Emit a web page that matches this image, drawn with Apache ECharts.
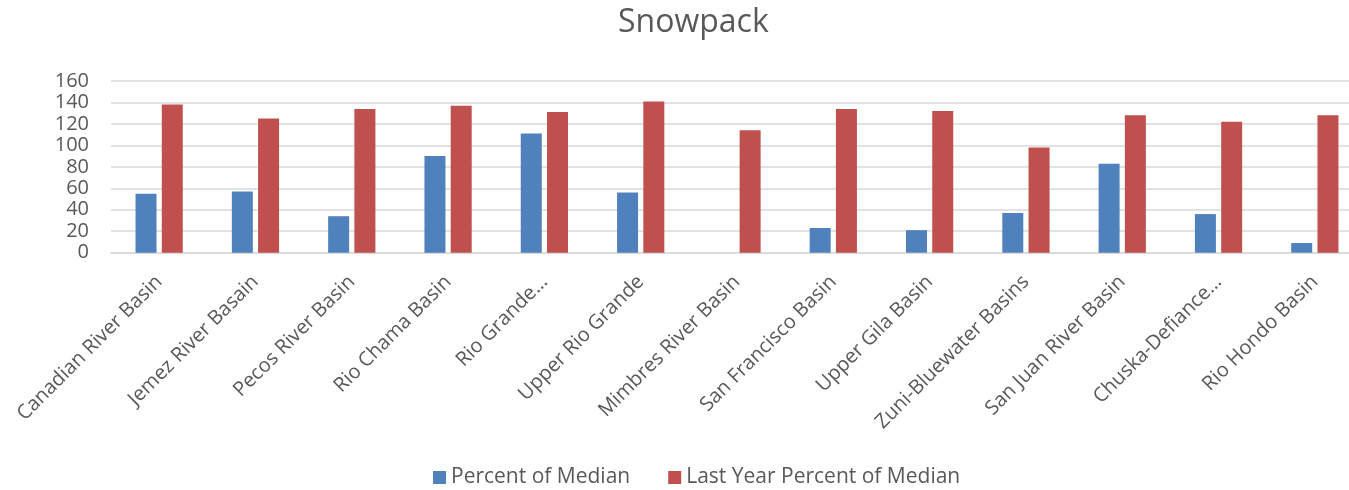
<!DOCTYPE html>
<html>
<head>
<meta charset="utf-8">
<script src="https://cdn.jsdelivr.net/npm/echarts@6/dist/echarts.min.js"></script>
<style>html,body{margin:0;padding:0;background:#fff;}#c{width:1349px;height:490px;}</style>
</head>
<body>
<div id="c"></div>
<script>
const categories = ["Canadian River Basin","Jemez River Basain","Pecos River Basin","Rio Chama Basin","Rio Grande…","Upper Rio Grande","Mimbres River Basin","San Francisco Basin","Upper Gila Basin","Zuni-Bluewater Basins","San Juan River Basin","Chuska-Defiance…","Rio Hondo Basin"];
const percentOfMedian = [55, 57, 34, 90, 111, 56, 0, 23, 21, 37, 83, 36, 9];
const lastYearPercentOfMedian = [138, 125, 134, 137, 131, 141, 114, 134, 132, 98, 128, 122, 128];
const yTicks = [0, 20, 40, 60, 80, 100, 120, 140, 160];

const FONT = 'Open Sans';
const TXT = '#595959';
const chart = echarts.init(document.getElementById('c'));
chart.setOption({
  animation: false,
  title: {
    text: 'Snowpack',
    left: 613, top: 2,
    textStyle: { fontFamily: FONT, fontSize: 32, fontWeight: 'normal', color: TXT }
  },
  legend: {
    bottom: -3, left: 428,
    itemWidth: 13, itemHeight: 13, itemGap: 38,
    icon: 'rect',
    textStyle: { fontFamily: FONT, fontSize: 21, color: TXT, padding: [0,0,0,0] }
  },
  grid: { left: 111, right: -14, top: 81, bottom: 237.3, containLabel: false, outerBoundsMode: 'none' },
  xAxis: {
    type: 'category',
    data: categories,
    axisLine: { lineStyle: { color: '#d9d9d9', width: 1.5 } },
    axisTick: { show: false },
    axisLabel: { rotate: 45, fontFamily: FONT, fontSize: 20, color: TXT, margin: 26, interval: 0 }
  },
  yAxis: {
    type: 'value', min: yTicks[0], max: yTicks[yTicks.length-1], interval: 20,
    axisLine: { show: false }, axisTick: { show: false },
    splitLine: { lineStyle: { color: '#d9d9d9', width: 1.5 } },
    axisLabel: { fontFamily: FONT, fontSize: 20, color: TXT, margin: 22 }
  },
  series: [
    { name: 'Percent of Median', type: 'bar', data: percentOfMedian, barWidth: 21, barGap: '25%',
      itemStyle: { color: '#4F81BD' } },
    { name: 'Last Year Percent of Median', type: 'bar', data: lastYearPercentOfMedian, barWidth: 21,
      itemStyle: { color: '#C0504D' } }
  ]
});
</script>
</body>
</html>
